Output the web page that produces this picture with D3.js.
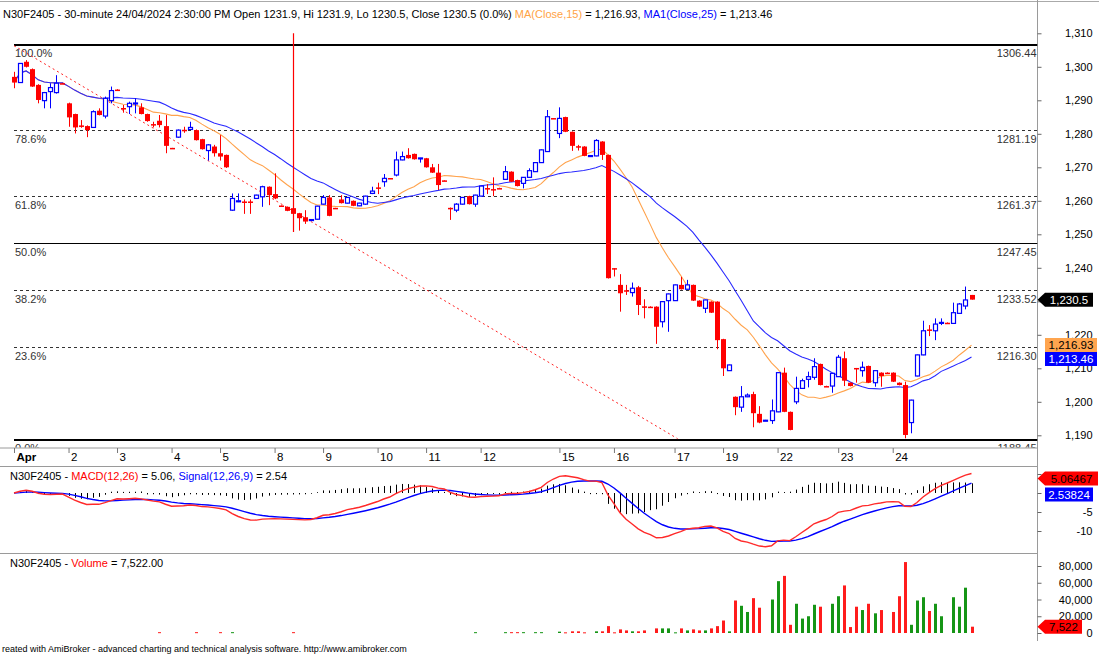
<!DOCTYPE html>
<html><head><meta charset="utf-8">
<script src="https://cdn.jsdelivr.net/npm/d3@7"></script>
<style>
body{margin:0;background:#fff}
svg{display:block}
text{font-family:"Liberation Sans",Arial,sans-serif;font-size:11px}
</style></head>
<body><svg id="c" width="1099" height="655"></svg>
<script>
// ---------------- DATA ----------------
const opens=[1297.0,1295.3,1301.5,1299.3,1294.6,1289.9,1292.6,1292.3,1295.1,1289.1,1285.9,1282.5,1282.3,1281.9,1286.9,1285.3,1289.9,1293.2,1287.7,1288.1,1289.0,1287.9,1285.9,1282.9,1283.9,1282.3,1275.8,1279.0,1281.2,1281.3,1281.1,1278.4,1275.0,1276.2,1274.2,1273.7,1257.2,1259.8,1259.8,1259.8,1260.7,1261.2,1264.2,1262.0,1258.6,1258.2,1257.8,1256.3,1255.1,1254.2,1254.5,1259.0,1261.0,1257.9,1260.4,1259.3,1260.0,1258.5,1259.0,1262.2,1264.0,1265.7,1266.8,1267.7,1272.2,1273.7,1274.0,1272.6,1272.7,1270.0,1268.4,1266.1,1257.9,1257.2,1259.0,1261.4,1259.0,1261.4,1263.8,1263.5,1263.8,1266.4,1268.7,1266.2,1265.2,1267.0,1268.7,1271.4,1274.7,1284.7,1280.1,1285.0,1280.6,1276.3,1276.2,1273.4,1273.4,1277.7,1273.7,1239.9,1234.9,1233.3,1232.6,1234.2,1228.5,1228.4,1228.4,1223.9,1230.2,1230.2,1234.9,1233.6,1234.9,1230.2,1227.9,1229.9,1229.9,1218.7,1209.3,1201.5,1198.4,1201.5,1202.3,1196.4,1194.4,1194.4,1197.0,1208.7,1197.0,1200.0,1204.0,1206.7,1207.3,1211.3,1204.7,1204.7,1207.5,1213.0,1205.7,1210.1,1209.3,1210.7,1205.7,1208.7,1208.7,1208.7,1205.7,1205.0,1193.8,1207.7,1214.0,1221.6,1221.2,1223.5,1223.6,1223.4,1226.4,1228.6,1231.9];
const highs=[1298.5,1301.0,1302.0,1299.5,1294.8,1292.5,1295.1,1297.5,1295.2,1289.3,1286.0,1284.1,1282.5,1287.0,1287.6,1291.1,1294.1,1293.3,1288.6,1289.6,1290.6,1289.1,1286.0,1283.6,1285.6,1285.6,1275.8,1281.3,1282.1,1283.6,1281.3,1278.5,1276.9,1276.7,1279.6,1273.8,1262.2,1262.2,1260.4,1260.4,1261.8,1264.5,1264.3,1268.2,1258.6,1258.3,1257.9,1256.4,1257.2,1254.4,1258.5,1261.7,1261.7,1257.9,1261.7,1261.1,1260.1,1259.4,1261.5,1264.2,1265.4,1268.0,1266.8,1274.7,1274.7,1275.7,1274.1,1272.8,1272.8,1271.0,1271.0,1266.1,1258.0,1259.3,1261.1,1261.5,1261.8,1264.5,1265.0,1267.0,1263.9,1270.4,1268.8,1266.3,1267.1,1269.7,1271.5,1275.3,1287.1,1284.7,1287.9,1285.1,1280.7,1276.7,1276.3,1273.5,1278.4,1277.8,1273.8,1239.9,1238.1,1234.9,1235.6,1234.6,1230.6,1228.5,1228.5,1230.0,1232.3,1235.0,1237.3,1236.4,1235.0,1230.3,1230.5,1230.0,1230.0,1218.8,1211.1,1201.6,1204.7,1202.5,1203.0,1198.7,1194.6,1200.7,1208.8,1210.2,1197.1,1207.5,1206.9,1209.0,1213.0,1211.4,1204.8,1208.6,1214.0,1215.0,1205.8,1210.1,1212.0,1210.8,1209.4,1208.8,1208.8,1208.8,1205.8,1206.0,1200.6,1214.1,1224.2,1222.9,1224.9,1224.9,1223.7,1229.6,1229.5,1234.4,1231.9];
const lows=[1293.6,1295.3,1299.8,1294.0,1289.1,1287.6,1287.6,1292.0,1294.9,1282.1,1280.1,1281.8,1279.0,1281.8,1285.5,1284.6,1289.1,1293.0,1286.3,1285.9,1286.1,1285.8,1283.6,1281.9,1281.9,1274.2,1275.6,1278.8,1280.3,1281.3,1278.0,1275.3,1272.0,1273.2,1272.0,1269.8,1257.0,1259.6,1256.1,1256.1,1260.6,1258.2,1258.7,1260.5,1258.4,1256.9,1256.0,1251.1,1253.1,1254.2,1254.4,1258.9,1255.4,1257.7,1259.2,1259.2,1258.4,1258.4,1258.8,1262.0,1262.0,1264.2,1266.6,1267.3,1272.1,1272.6,1272.3,1271.4,1269.9,1268.3,1263.2,1265.9,1254.3,1256.6,1258.9,1258.9,1258.2,1261.3,1262.0,1261.4,1263.6,1266.3,1265.6,1264.3,1263.7,1266.9,1268.6,1271.3,1274.6,1284.5,1278.7,1280.5,1274.9,1275.0,1273.3,1273.3,1273.3,1272.2,1236.8,1237.4,1226.9,1231.9,1231.4,1225.9,1224.9,1228.3,1217.3,1222.2,1220.9,1230.1,1233.5,1233.5,1230.1,1228.3,1226.5,1226.5,1215.7,1207.7,1209.2,1196.0,1197.0,1201.4,1192.4,1193.6,1194.3,1193.4,1196.9,1196.9,1191.5,1199.3,1203.9,1204.3,1206.6,1204.9,1204.6,1202.7,1207.4,1204.7,1204.6,1205.7,1207.5,1205.6,1204.5,1204.5,1208.6,1205.9,1204.9,1189.1,1190.6,1207.6,1213.9,1219.6,1218.4,1222.9,1223.5,1223.3,1226.3,1227.6,1230.5];
const closes=[1295.3,1301.0,1300.0,1294.1,1290.1,1292.3,1293.8,1295.1,1295.0,1284.9,1281.9,1282.1,1281.1,1286.6,1285.6,1290.6,1292.9,1293.1,1287.4,1289.1,1289.2,1285.9,1283.8,1282.7,1282.6,1276.4,1275.6,1281.1,1281.0,1281.9,1278.1,1275.4,1276.7,1274.2,1273.2,1270.0,1260.7,1260.0,1259.6,1259.6,1261.7,1264.2,1261.7,1260.7,1258.4,1257.0,1256.1,1254.8,1253.8,1254.4,1258.4,1261.0,1255.5,1257.7,1259.3,1261.0,1258.5,1259.3,1261.4,1262.9,1263.8,1266.7,1266.6,1272.2,1273.2,1272.7,1272.4,1272.8,1270.0,1268.4,1264.7,1265.9,1257.7,1259.0,1261.0,1259.0,1261.7,1264.4,1263.6,1263.3,1263.6,1268.7,1265.7,1264.4,1267.0,1269.0,1271.4,1275.2,1285.1,1284.5,1284.6,1280.6,1276.4,1276.1,1273.4,1273.5,1278.0,1273.7,1236.9,1239.8,1232.4,1233.1,1233.9,1228.9,1228.3,1228.3,1222.4,1229.9,1232.2,1234.9,1233.6,1234.9,1230.2,1228.4,1230.4,1226.6,1218.4,1210.0,1211.0,1198.4,1201.5,1202.0,1196.6,1193.8,1194.5,1197.3,1208.7,1197.0,1191.6,1204.0,1206.3,1207.5,1210.5,1205.0,1204.6,1208.5,1213.3,1206.3,1204.7,1209.9,1210.3,1205.7,1209.3,1207.7,1208.6,1206.0,1205.0,1190.1,1200.5,1214.0,1221.2,1221.2,1223.2,1223.7,1223.5,1226.6,1229.2,1230.4,1230.5];
const volumes=[0,0,0,0,0,0,0,0,0,0, 0,0,0,0,0,0,0,0,0,0, 0,0,0,0,1000,0,0,0,0,0, 1000,0,0,0,1000,0,1000,0,0,0, 0,0,0,0,0,0,1000,0,0,0, 0,0,0,0,0,0,0,0,0,0, 0,0,0,0,0,0,0,0,0,0, 0,0,0,0,0,0,1000,0,0,0, 0,1000,1000,1000,1000,0,1000,1000,0,0,
1600,800,2000,2000,800,0,2000,2000,8200,800,
4300,3100,2000,2000,3100,0,5500,5500,5500,800,
5500,3100,4300,3100,3100,5500,8200,14900,2000,38800,
32500,25100,41600,30200,0,40000,61900,68200,9800,34900,
17200,20000,33700,31400,0,34900,43900,56800,7100,31400,
27400,34900,23500,27400,0,25100,43900,84700,9800,38800,
42700,26300,34900,20000,0,42700,31400,54100,7522];
const dayLabels=["Apr","2","3","4","5","8","9","10","11","12","15","16","17","19","22","23","24"];
const dayStartBars=[0,9,17,26,34,43,51,60,68,77,90,99,109,117,126,136,145];
const priceTicks=[1190,1200,1210,1220,1230,1240,1250,1260,1270,1280,1290,1300,1310];
const macdTicks=[-10,-5,0,5];
const macdTickLabels=["-10","-5","0","5"];
const volumeTicks=[0,20000,40000,60000,80000];
const fibLabels=["100.0%","78.6%","61.8%","50.0%","38.2%","23.6%","0.0%"];
const fibPrices=[1306.44,1281.19,1261.37,1247.45,1233.52,1216.30,1188.45];
const trendBars=[0,109.5];
const trendPrices=[1306.3,1189.0];
const markerBar=46, markerPrices=[1310,1250.7];
const lastValues={close:1230.5, ma15:1216.93, ma25:1213.46, macd:5.06467, signal:2.53824, volume:7522};
const headerParts=[["N30F2405 - 30-minute 24/04/2024 2:30:00 PM Open 1231.9, Hi 1231.9, Lo 1230.5, Close 1230.5 (0.0%) ","#000"],["MA(Close,15)","#FFA345"],[" = 1,216.93, ","#000"],["MA1(Close,25)","#0000FF"],[" = 1,213.46","#000"]];
const macdTitle=[["N30F2405 - ","#000"],["MACD(12,26)","#FF0000"],[" = 5.06, ","#000"],["Signal(12,26,9)","#0000FF"],[" = 2.54","#000"]];
const volTitle=[["N30F2405 - ","#000"],["Volume","#FF0000"],[" = 7,522.00","#000"]];
const footer="reated with AmiBroker - advanced charting and technical analysis software. http://www.amibroker.com";

// ---------------- INDICATORS (from closes) ----------------
function sma(a,n){return a.map((_,i)=>d3.mean(a.slice(Math.max(0,i-n+1),i+1)));}
function ema(a,n){const k=2/(n+1);let e=a[0];return a.map((v,i)=>i===0?e:(e=v*k+e*(1-k)));}
const ma15=sma(closes,15), ma25=sma(closes,25);
const e12=ema(closes,12), e26=ema(closes,26);
const macd=e12.map((v,i)=>v-e26[i]);
const signal=ema(macd,9);
const hist=macd.map((v,i)=>v-signal[i]);

// ---------------- LAYOUT ----------------
const svg=d3.select("#c");
const N=closes.length;
const AX=1037.5;
const RED="#FF0000", BLUE="#0000FF", GRID="#9a9a9a";
const x=d3.scaleLinear().domain([0,158]).range([14,971.5]);
const yP=d3.scaleLinear().domain([1190,1310]).range([435.3,33.3]);
const yM=d3.scaleLinear().domain([-10,5]).range([531,474]);
const yV=d3.scaleLinear().domain([0,80000]).range([633,566]);

const defs=svg.append("defs");
defs.append("clipPath").attr("id","cp").append("rect").attr("x",0).attr("y",22).attr("width",AX).attr("height",425.5);
defs.append("clipPath").attr("id","cm").append("rect").attr("x",0).attr("y",467).attr("width",AX).attr("height",86);
defs.append("clipPath").attr("id","cv").append("rect").attr("x",0).attr("y",554).attr("width",AX).attr("height",86);

svg.append("line").attr("x1",0).attr("x2",1099).attr("y1",1.5).attr("y2",1.5).attr("stroke","#aaa");
svg.append("line").attr("x1",AX).attr("x2",AX).attr("y1",0).attr("y2",641).attr("stroke",GRID);
[448,466.5,553.5].forEach(y=>svg.append("line").attr("x1",0).attr("x2",AX).attr("y1",y).attr("y2",y).attr("stroke",GRID));

function titled(parts,xx,yy){
  const t=svg.append("text").attr("x",xx).attr("y",yy);
  parts.forEach(p=>t.append("tspan").attr("fill",p[1]).text(p[0]));
  return t;
}
titled(headerParts,3,18);
titled(macdTitle,10,480);
titled(volTitle,10,567);
svg.append("text").attr("x",2).attr("y",652).style("font-size","9px").attr("fill","#000").text(footer);

// ---------------- PRICE PANEL ----------------
const gp=svg.append("g").attr("clip-path","url(#cp)");
fibPrices.forEach((p,i)=>{
  const thick=(i===0||i===fibPrices.length-1), solid=(fibLabels[i]==="50.0%");
  const y=Math.round(yP(p))+(thick?0:0.5);
  gp.append("line").attr("x1",14).attr("x2",AX).attr("y1",y).attr("y2",y)
    .attr("stroke",thick||solid?"#000":"#333").attr("stroke-width",thick?2:1)
    .attr("stroke-dasharray",thick||solid?null:"3,3");
  gp.append("text").attr("x",15).attr("y",y+12).attr("fill","#333").text(fibLabels[i]);
  gp.append("text").attr("x",AX-1).attr("y",y+12).attr("text-anchor","end").attr("fill","#333").text(d3.format(".2f")(p));
});
gp.append("line").attr("x1",x(trendBars[0])).attr("y1",yP(trendPrices[0])).attr("x2",x(trendBars[1])).attr("y2",yP(trendPrices[1]))
  .attr("stroke","#FF2020").attr("stroke-width",1).attr("stroke-dasharray","2,3");
const lineGen=(ys,sc)=>d3.line().x((d,i)=>x(i)).y(d=>sc(d))(ys);
gp.append("path").attr("d",lineGen(ma15,yP)).attr("fill","none").attr("stroke","#FFA34D").attr("stroke-width",1.1);
gp.append("path").attr("d",lineGen(ma25,yP)).attr("fill","none").attr("stroke","#2a2aff").attr("stroke-width",1.1);
const idx=d3.range(N);
const cg=gp.append("g");
idx.forEach(i=>{
  const up=closes[i]>=opens[i];
  const col=up?BLUE:RED;
  const cx=Math.round(x(i))+0.5;
  cg.append("line").attr("x1",cx).attr("x2",cx).attr("y1",yP(highs[i])).attr("y2",yP(lows[i])).attr("stroke",col).attr("stroke-width",1);
  const top=yP(Math.max(opens[i],closes[i])), bot=yP(Math.min(opens[i],closes[i]));
  if(up){
    cg.append("rect").attr("x",cx-2).attr("y",top).attr("width",4).attr("height",Math.max(1,bot-top))
      .attr("fill","#fff").attr("stroke",BLUE).attr("stroke-width",1.2);
  } else {
    cg.append("rect").attr("x",cx-2.5).attr("y",top).attr("width",5).attr("height",Math.max(1.5,bot-top)).attr("fill",RED);
  }
});
// vertical marker line (red)
const mx=Math.round(x(markerBar))+0.5;
gp.append("line").attr("x1",mx).attr("x2",mx).attr("y1",yP(markerPrices[0])).attr("y2",yP(markerPrices[1]))
  .attr("stroke","#FF0000").attr("stroke-width",1.2);

// axes helper
function rightAxis(scale,ticks,fmt){
  const g=svg.append("g").attr("transform",`translate(${AX},0)`).call(d3.axisRight(scale).tickValues(ticks).tickSize(4).tickFormat(fmt));
  g.select(".domain").remove();
  g.selectAll("line").attr("stroke","#666");
  g.selectAll("text").attr("text-anchor","end").attr("x",55).style("font-size","11px").style("font-family","'Liberation Sans',Arial,sans-serif").attr("fill","#000");
  return g;
}
const pa=rightAxis(yP,priceTicks,d3.format(","));

const xa=svg.append("g").attr("transform","translate(0,448)").call(d3.axisBottom(x).tickValues(dayStartBars).tickSize(5).tickFormat((d,i)=>dayLabels[i]));
xa.select(".domain").remove();
xa.selectAll("line").attr("stroke","#777");
xa.selectAll("text").attr("text-anchor","start").attr("x",2).attr("y",5).style("font-size","11.5px").style("font-family","'Liberation Sans',Arial,sans-serif").attr("fill","#000")
  .style("font-weight",(d,i)=>i===0?"bold":"normal");

// tags
function tag(yc,x0,x1,fill,txtCol,label,arrow){
  const h=14;
  const pts=arrow?[[AX,yc],[x0,yc-h/2],[x1,yc-h/2],[x1,yc+h/2],[x0,yc+h/2]]:[[x0,yc-h/2],[x1,yc-h/2],[x1,yc+h/2],[x0,yc+h/2]];
  svg.append("polygon").attr("points",pts.map(p=>p.join(",")).join(" ")).attr("fill",fill);
  svg.append("text").attr("x",(x0+x1)/2).attr("y",yc+4).attr("text-anchor","middle").attr("fill",txtCol).style("font-size","11.5px").text(label);
}
function hideCovered(axisG,scale,centers){
  axisG.selectAll(".tick").filter(d=>centers.some(c=>Math.abs(scale(d)-c)<5.5)).select("text").remove();
}
const cy=yP(lastValues.close);
const oy=yP(lastValues.ma15);
const by=Math.max(yP(lastValues.ma25),oy+14);
hideCovered(pa,yP,[cy]);
tag(cy,1045,1093,"#000","#fff",d3.format(",.1f")(lastValues.close),true);
tag(oy,1045,1097,"#FFA54F","#000",d3.format(",.2f")(lastValues.ma15),false);
tag(by,1045,1097,"#0000FF","#fff",d3.format(",.2f")(lastValues.ma25),false);

// ---------------- MACD PANEL ----------------
const gm=svg.append("g").attr("clip-path","url(#cm)");
idx.forEach(i=>{
  const cx=Math.round(x(i))+0.5;
  const h=hist[i];
  gm.append("line").attr("x1",cx).attr("x2",cx).attr("y1",yM(0)).attr("y2",yM(h)+(Math.abs(h)<0.15?(h<0?1:-1):0)).attr("stroke","#000").attr("stroke-width",1);
});
gm.append("path").attr("d",lineGen(signal,yM)).attr("fill","none").attr("stroke",BLUE).attr("stroke-width",1.4);
gm.append("path").attr("d",lineGen(macd,yM)).attr("fill","none").attr("stroke","#FF2a2a").attr("stroke-width",1.4);
const ma=rightAxis(yM,macdTicks,(d,i)=>macdTickLabels[i]);
const my=Math.max(yM(lastValues.macd),466.5+12);
const sy=Math.max(yM(lastValues.signal),my+16);
hideCovered(ma,yM,[my,sy]);
tag(my,1045,1098,"#FF0000","#000",lastValues.macd.toFixed(5),true);
tag(sy,1045,1093,"#0000FF","#fff",lastValues.signal.toFixed(5),false);

// ---------------- VOLUME PANEL ----------------
const gv=svg.append("g").attr("clip-path","url(#cv)");
idx.forEach(i=>{
  if(volumes[i]<=0) return;
  const up=closes[i]>=opens[i];
  const cx=Math.round(x(i))+0.5;
  const top=yV(volumes[i]);
  gv.append("rect").attr("x",cx-1.5).attr("y",top).attr("width",3).attr("height",Math.max(1,yV(0)-top))
    .attr("fill",up?"#0a8f0a":"#ff1010").attr("opacity",0.95);
});
const va=rightAxis(yV,volumeTicks,d3.format(","));
const vy=Math.min(yV(lastValues.volume),630);
tag(vy,1045,1082,"#FF0000","#000",d3.format(",")(lastValues.volume),true);
</script>
</body></html>
